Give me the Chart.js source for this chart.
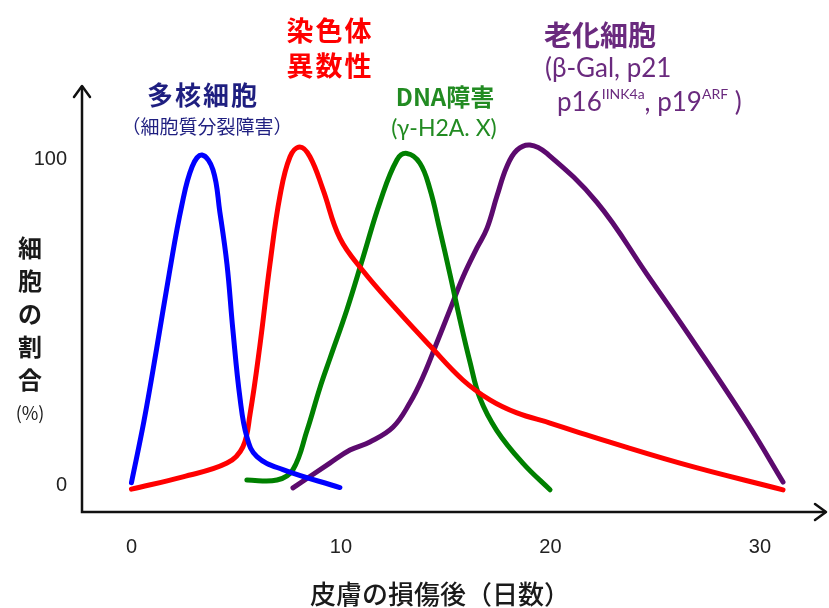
<!DOCTYPE html>
<html>
<head>
<meta charset="utf-8">
<script src="https://cdn.jsdelivr.net/npm/chart.js@4.4.1/dist/chart.umd.min.js"></script>
<style>
  html, body { margin: 0; padding: 0; background: #fff; }
  #wrap { width: 829px; height: 608px; position: relative; }
</style>
</head>
<body>
<div id="wrap"><canvas id="chart"></canvas></div>
<script>
// days after skin injury (x) and share of cells (%) for each curve
const blueX = [0, 0.6, 1.2, 1.8, 2.4, 2.9, 3.37, 3.89, 4.22, 4.56, 4.84, 5.18, 5.51, 5.99, 7.23, 9.95];
const blueY = [1, 20, 42, 65, 86, 98, 101.5, 97, 84, 68, 48, 27, 15, 9, 5, -0.5];

const redX = [0, 2.46, 4.56, 5.32, 5.66, 6.13, 6.61, 7.09, 7.57, 8.04, 8.52, 9.14, 9.95, 11.05, 12.67, 14.25, 15.82, 17.11, 18.4, 19.98, 21.41, 26.18, 31.1];
const redY = [-1, 2.8, 7, 12, 22, 43, 68, 89, 101, 104, 101, 91, 76, 66, 54, 43, 32.5, 26.4, 22.4, 19.3, 16.3, 7, -1.2];

const greenX = [5.51, 6.95, 7.71, 8.38, 8.99, 9.47, 10.28, 11.05, 11.86, 12.67, 13.15, 13.77, 14.25, 14.72, 15.2, 15.68, 16.16, 16.63, 17.44, 18.68, 19.98];
const greenY = [1.8, 1.8, 5, 17, 30, 39, 54, 70, 87, 100, 102, 99, 91, 78.5, 65, 51, 38, 27, 17, 7, -1.2];

const purpleX = [7.71, 9.47, 10.43, 11.38, 12.48, 13.29, 13.91, 14.58, 15.2, 15.82, 16.49, 16.97, 17.45, 17.92, 18.4, 19.02, 19.83, 22.22, 24.6, 27.0, 29.4, 31.1];
const purpleY = [-0.6, 7, 11, 13.5, 18, 25.5, 33.4, 44, 54, 64, 73, 79, 89, 98, 103, 104.6, 102, 87, 65, 42.6, 19.3, 1.2];

const xTicks = [0, 10, 20, 30];
const yTicks = [0, 100];

function toPoints(xs, ys) {
    return xs.map((x, i) => ({ x: x, y: ys[i] }));
}

function makeSet(xs, ys, color) {
    return {
        data: toPoints(xs, ys),
        borderColor: color,
        borderWidth: 5,
        pointRadius: 0,
        fill: false,
        tension: 0.4,
        borderCapStyle: 'round',
        borderJoinStyle: 'round',
    };
}

// axis arrows, axis titles and curve annotations
const decorPlugin = {
    id: 'decor',
    afterDraw(chart) {
        const ctx = chart.ctx;
        const a = chart.chartArea;
        ctx.save();

        // axes with open arrow heads
        ctx.strokeStyle = '#111';
        ctx.lineWidth = 2.5;
        ctx.lineCap = 'butt';
        ctx.beginPath();
        ctx.moveTo(a.left, a.top + 1);
        ctx.lineTo(a.left, a.bottom);
        ctx.lineTo(a.right - 1, a.bottom);
        ctx.stroke();
        ctx.lineCap = 'round';
        ctx.lineJoin = 'round';
        ctx.beginPath();
        ctx.moveTo(a.left - 8, a.top + 12);
        ctx.lineTo(a.left, a.top + 1);
        ctx.lineTo(a.left + 8, a.top + 12);
        ctx.moveTo(a.right - 12, a.bottom - 8);
        ctx.lineTo(a.right - 1, a.bottom);
        ctx.lineTo(a.right - 12, a.bottom + 8);
        ctx.stroke();

        const jp = '"Noto Sans CJK JP", "Noto Sans", sans-serif';
        const lat = '"Lato", "Noto Sans", sans-serif';
        ctx.textBaseline = 'middle';

        // y axis title, stacked vertically
        ctx.fillStyle = '#1a1a1a';
        ctx.textAlign = 'center';
        ctx.font = 'bold 24px ' + jp;
        ['細', '胞', 'の', '割', '合'].forEach((c, i) => {
            ctx.fillText(c, 30, 248 + i * 33);
        });
        ctx.font = '18px ' + jp;
        ctx.fillText('(%)', 30, 413);

        // x axis title
        ctx.font = '500 26px ' + jp;
        ctx.fillText('皮膚の損傷後（日数）', 440, 594);

        // annotations
        ctx.fillStyle = '#1f1f80';
        ctx.font = 'bold 26px ' + jp;
        ctx.letterSpacing = '2px';
        ctx.fillText('多核細胞', 203, 95);
        ctx.letterSpacing = '0px';
        ctx.font = '19px ' + jp;
        ctx.fillText('（細胞質分裂障害）', 207, 127);

        ctx.fillStyle = '#ff0000';
        ctx.font = 'bold 27px ' + jp;
        ctx.letterSpacing = '2px';
        ctx.fillText('染色体', 330, 31);
        ctx.fillText('異数性', 330, 66);
        ctx.letterSpacing = '0px';

        ctx.fillStyle = '#228b22';
        ctx.font = 'bold 24px ' + jp;
        ctx.fillText('DNA障害', 445, 97);
        ctx.font = '23px ' + lat;
        ctx.fillText('(γ-H2A. X)', 444, 129);

        ctx.fillStyle = '#6a2a7e';
        ctx.textAlign = 'left';
        ctx.font = 'bold 28px ' + jp;
        ctx.fillText('老化細胞', 544, 35);
        ctx.font = '26px ' + lat;
        ctx.fillText('(β-Gal, p21', 545, 69);

        // second line with superscripts
        let x = 557;
        const parts = [
            ['p16', 26, 0],
            ['IINK4a', 14, -9],
            [', p19', 26, 0],
            ['ARF', 14, -9],
            [' )', 26, 0],
        ];
        parts.forEach(([t, size, dy]) => {
            ctx.font = size + 'px ' + lat;
            ctx.fillText(t, x, 103 + dy);
            x += ctx.measureText(t).width;
        });

        ctx.restore();
    },
};

new Chart(document.getElementById('chart'), {
    type: 'line',
    data: {
        datasets: [
            makeSet(blueX, blueY, '#0000ff'),
            makeSet(redX, redY, '#ff0000'),
            makeSet(greenX, greenY, '#008000'),
            makeSet(purpleX, purpleY, '#5c0a6e'),
        ],
    },
    options: {
        responsive: true,
        maintainAspectRatio: false,
        animation: false,
        layout: { padding: { top: 85, right: 2, left: 0, bottom: 0 } },
        plugins: {
            legend: { display: false },
            tooltip: { enabled: false },
        },
        scales: {
            x: {
                type: 'linear',
                min: -2.36,
                max: 33.2,
                grid: { display: false, drawTicks: false },
                border: { display: false },
                afterBuildTicks: (s) => { s.ticks = xTicks.map((v) => ({ value: v })); },
                afterFit: (s) => { s.height = 96; },
                ticks: {
                    padding: 23,
                    color: '#222',
                    font: { family: '"Liberation Sans", sans-serif', size: 20 },
                    maxRotation: 0,
                },
            },
            y: {
                min: -8,
                max: 123,
                grid: { display: false, drawTicks: false },
                border: { display: false },
                afterBuildTicks: (s) => { s.ticks = yTicks.map((v) => ({ value: v })); },
                afterFit: (s) => { s.width = 82; },
                ticks: {
                    padding: 15,
                    color: '#222',
                    font: { family: '"Liberation Sans", sans-serif', size: 20 },
                },
            },
        },
    },
    plugins: [decorPlugin],
});
</script>
</body>
</html>
